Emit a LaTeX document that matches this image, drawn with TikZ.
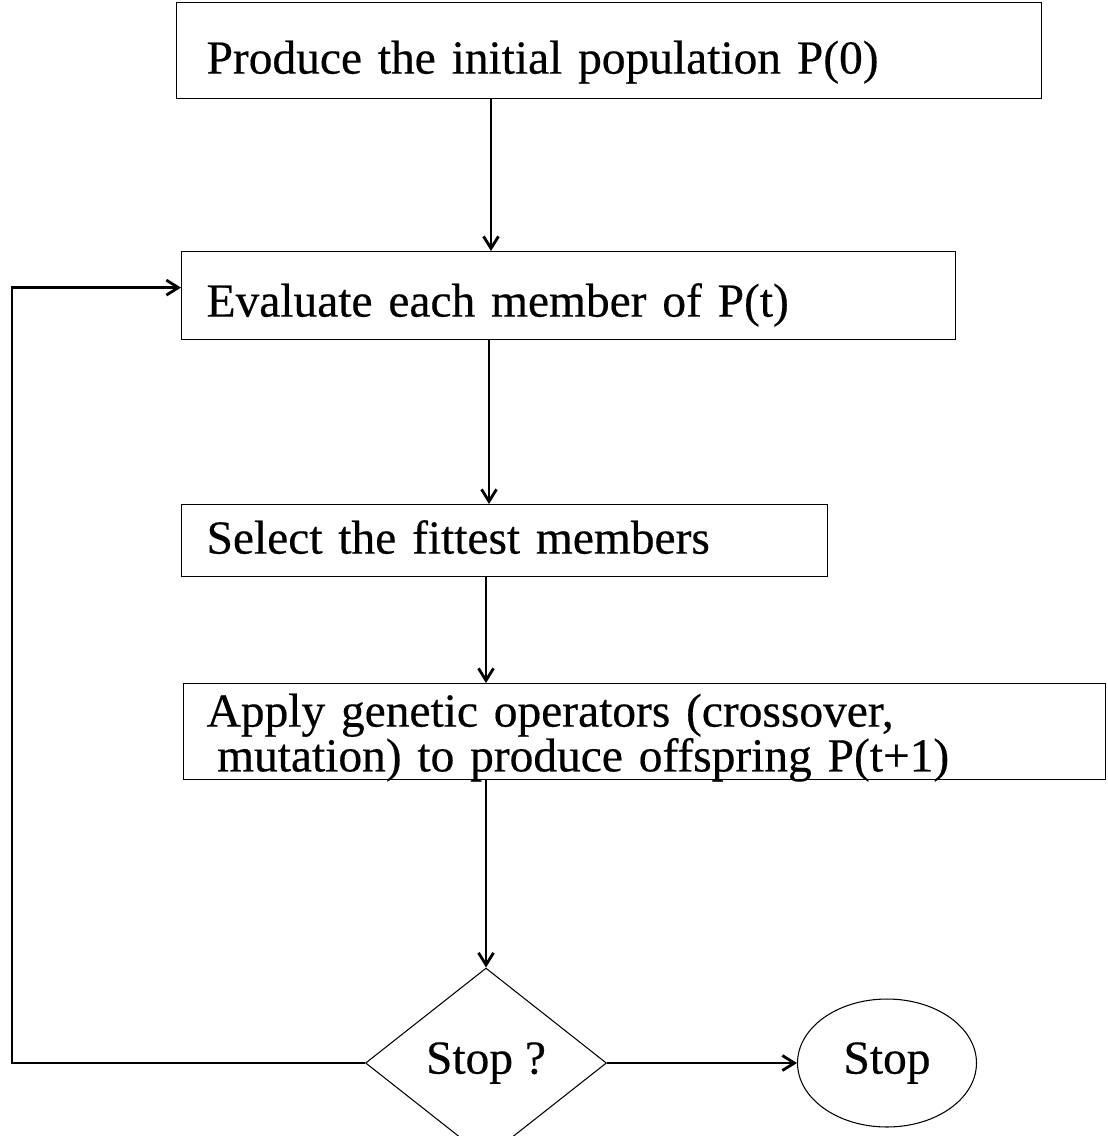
\documentclass[tikz,border=0pt]{standalone}
\usepackage{fontspec}
\setmainfont[FakeBold=0.4]{Liberation Serif}
\usetikzlibrary{arrows.meta,shapes.geometric}
\newcommand{\flowfont}{\fontsize{27}{25.5}\selectfont\lineskiplimit=-30pt}
\tikzset{
	stepbox/.style={
			draw, line width=0.7pt, rectangle, anchor=north west, align=left,
			inner xsep=0.5cm, inner ysep=0pt, font=\flowfont
		},
	decision/.style={
			draw, line width=0.6pt, diamond, inner sep=0pt,
			minimum width=4.82cm, minimum height=3.8cm, font=\flowfont
		},
	terminal/.style={
			draw, line width=0.6pt, ellipse, inner sep=0pt,
			minimum width=3.58cm, minimum height=2.56cm, font=\flowfont
		},
	flow/.style={-{Straight Barb[length=0.24cm,width=0.3cm]}, black, line width=1.6pt}
}

\begin{document}
\begin{tikzpicture}[x=0.02cm, y=-0.02cm]
			\useasboundingbox (0, 0) rectangle (1108, 1136);

			\node[stepbox, inner xsep=0.6cm, text width=16.1cm, text height=1.42cm, text depth=0.5cm]	(produce) at (176, 2) {Produce the initial population P(0)};
			\node[stepbox, text width=14.48cm, text height=1.3cm, text depth=0.46cm]	(evaluate) at (181, 251) {Evaluate each member of P(t)};
			\node[stepbox, text width=11.92cm, text height=0.98cm, text depth=0.46cm]	(select) at (181, 504) {Select the fittest members};
			\node[stepbox, inner xsep=0.46cm, text width=17.52cm, text height=0.86cm, text depth=1.06cm]	(apply) at (183, 683) {Apply genetic operators (crossover,\\\hspace*{6pt}mutation) to produce offspring P(t+1)};
			\node[decision]	(decide) at (486, 1063) {Stop ?};
			\node[terminal]	(stop) at (887, 1063) {Stop};

			\coordinate (c1) at (491, 0);
			\coordinate (c2) at (489, 0);
			\coordinate (c3) at (486, 0);
			\coordinate (c4) at (decide.north);
			\coordinate (back) at (12, 0);

			\draw[flow]	(produce.south -| c1) to (evaluate.north -| c1);
			\draw[flow]	(evaluate.south -| c2) to (select.north -| c2);
			\draw[flow]	(select.south -| c3) to (apply.north -| c3);
			\draw[flow]	(apply.south -| c4) to (decide.north);
			\draw[flow]	(decide.east) to (stop.west);
			\draw[flow]	(decide.west) to (decide.west -| back)
								to ([yshift=0.16cm]evaluate.west -| back)
								to ([yshift=0.16cm]evaluate.west);
		\end{tikzpicture}
\end{document}
